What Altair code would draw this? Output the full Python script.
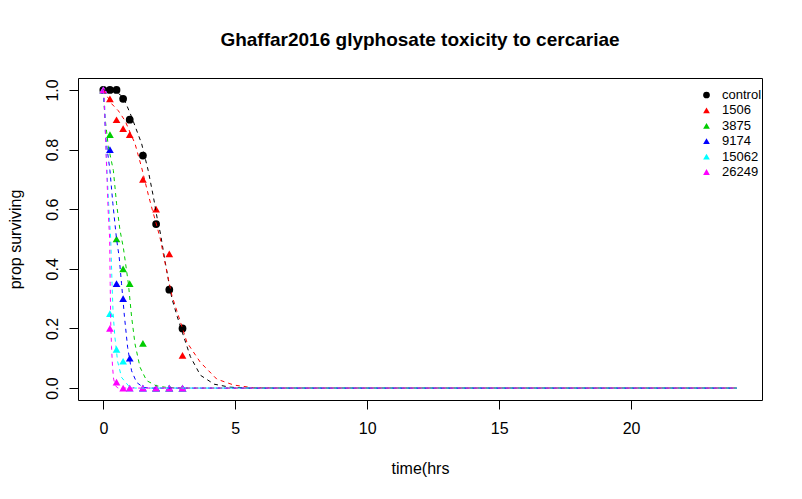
import altair as alt
import pandas as pd

# ---------------- data ----------------
series = ["control", "1506", "3875", "9174", "15062", "26249"]
colors = ["#000000", "#FF0000", "#00CD00", "#0000FF", "#00FFFF", "#FF00FF"]
shapes = ["circle", "triangle-up", "triangle-up", "triangle-up", "triangle-up", "triangle-up"]

point_times = [0, 0.25, 0.5, 0.75, 1.0, 1.5, 2.0, 2.5, 3.0]
surv_control = [1.0, 1.0, 1.0, 0.97, 0.90, 0.78, 0.55, 0.33, 0.20]
surv_1506 = [1.0, 0.97, 0.90, 0.87, 0.85, 0.70, 0.60, 0.45, 0.11]
surv_3875 = [1.0, 0.85, 0.50, 0.40, 0.35, 0.15, 0.0, 0.0, 0.0]
surv_9174 = [1.0, 0.80, 0.35, 0.30, 0.10, 0.0, 0.0, 0.0, 0.0]
surv_15062 = [1.0, 0.25, 0.13, 0.09, 0.0, 0.0, 0.0, 0.0, 0.0]
surv_26249 = [1.0, 0.20, 0.02, 0.0, 0.0, 0.0, 0.0, 0.0, 0.0]

# fitted curves
fit_t_control = [0, 0.5, 0.76, 1.07, 1.45, 1.7, 1.9, 2.04, 2.16, 2.35, 2.48, 2.6, 2.8, 3.0, 3.3, 3.68, 4.2, 4.8, 5.5, 24]
fit_s_control = [1.0, 0.993, 0.975, 0.91, 0.82, 0.73, 0.64, 0.57, 0.52, 0.42, 0.355, 0.30, 0.24, 0.185, 0.105, 0.043, 0.013, 0.003, 0.0, 0.0]
fit_t_1506 = [0, 0.32, 0.57, 0.82, 1.2, 1.45, 1.7, 1.85, 2.04, 2.16, 2.35, 2.48, 2.6, 2.8, 3.0, 3.17, 3.68, 4.3, 4.95, 5.6, 6.7, 24]
fit_s_1506 = [1.0, 0.953, 0.93, 0.897, 0.82, 0.74, 0.65, 0.60, 0.54, 0.50, 0.415, 0.36, 0.31, 0.255, 0.20, 0.153, 0.086, 0.03, 0.01, 0.002, 0.0, 0.0]
fit_t_3875 = [0, 0.06, 0.19, 0.38, 0.5, 0.63, 0.76, 0.95, 1.07, 1.2, 1.39, 1.64, 2.0, 2.4, 3.0, 24]
fit_s_3875 = [1.0, 0.91, 0.81, 0.73, 0.62, 0.53, 0.47, 0.35, 0.24, 0.148, 0.07, 0.025, 0.008, 0.002, 0.0, 0.0]
fit_t_9174 = [0, 0.04, 0.09, 0.25, 0.36, 0.5, 0.6, 0.69, 0.8, 0.92, 1.07, 1.26, 1.52, 1.8, 24]
fit_s_9174 = [1.0, 0.94, 0.84, 0.73, 0.62, 0.50, 0.44, 0.35, 0.24, 0.137, 0.058, 0.019, 0.002, 0.0, 0.0]
fit_t_15062 = [0, 0.05, 0.1, 0.2, 0.28, 0.33, 0.37, 0.44, 0.54, 0.69, 0.95, 1.2, 24]
fit_s_15062 = [1.0, 0.95, 0.80, 0.62, 0.50, 0.35, 0.25, 0.17, 0.09, 0.036, 0.008, 0.0, 0.0]
fit_t_26249 = [0, 0.04, 0.1, 0.18, 0.24, 0.26, 0.28, 0.31, 0.35, 0.39, 0.46, 0.55, 24]
fit_s_26249 = [1.0, 0.96, 0.80, 0.60, 0.50, 0.35, 0.22, 0.14, 0.07, 0.03, 0.008, 0.0, 0.0]

# ---------------- tables ----------------
surv_lists = [surv_control, surv_1506, surv_3875, surv_9174, surv_15062, surv_26249]
fit_t_lists = [fit_t_control, fit_t_1506, fit_t_3875, fit_t_9174, fit_t_15062, fit_t_26249]
fit_s_lists = [fit_s_control, fit_s_1506, fit_s_3875, fit_s_9174, fit_s_15062, fit_s_26249]

pts_rows = []
for i, name in enumerate(series):
    for t, s in zip(point_times, surv_lists[i]):
        pts_rows.append({"series": name, "time": t, "surv": s, "k": i})
pts = pd.DataFrame(pts_rows)

FONT = "Liberation Sans"

x_scale = alt.Scale(domain=[-0.96, 24.96], nice=False, zero=False)
y_scale = alt.Scale(domain=[-0.04, 1.04], nice=False, zero=False)

x_enc = alt.X(
    "time:Q",
    scale=x_scale,
    axis=alt.Axis(
        values=[0, 5, 10, 15, 20], format="d", title="time(hrs",
        tickSize=9, labelPadding=11,
        titleX=342, titleY=68, titleBaseline="middle", titleAlign="center",
    ),
)
y_enc = alt.Y(
    "surv:Q",
    scale=y_scale,
    axis=alt.Axis(
        values=[0, 0.2, 0.4, 0.6, 0.8, 1.0], format=".1f", title="prop surviving",
        tickSize=9, labelAngle=270, labelAlign="center", labelBaseline="alphabetic",
        labelPadding=12,
        titleX=-63, titleY=161, titleAngle=270, titleBaseline="middle", titleAlign="center",
    ),
)

legend = alt.Legend(
    title=None, orient="none", legendX=622, legendY=10.5, padding=0,
    symbolSize=45, labelFontSize=13, labelFont=FONT, labelFontWeight="normal",
    labelColor="black", labelOffset=9, rowPadding=1.4, symbolStrokeWidth=0,
)

points = alt.Chart(pts).mark_point(filled=True, opacity=1, size=60).encode(
    x=x_enc,
    y=y_enc,
    color=alt.Color("series:N", scale=alt.Scale(domain=series, range=colors), legend=legend),
    shape=alt.Shape("series:N", scale=alt.Scale(domain=series, range=shapes), legend=legend),
    order=alt.Order("k:Q"),
)

layers = [points]
for i, name in enumerate(series):
    df = pd.DataFrame({"time": fit_t_lists[i], "surv": fit_s_lists[i]})
    layers.append(
        alt.Chart(df).mark_line(strokeDash=[4, 4], strokeWidth=1, color=colors[i]).encode(
            x=alt.X("time:Q", scale=x_scale),
            y=alt.Y("surv:Q", scale=y_scale),
        )
    )

chart = (
    alt.layer(*layers)
    .properties(
        width=684, height=322,
        autosize=alt.AutoSizeParams(type="none"),
        padding={"left": 70, "top": 70, "right": 20, "bottom": 80},
        title=alt.Title(
            "Ghaffar2016 glyphosate toxicity to cercariae",
            font=FONT, fontSize=19, fontWeight="bold", color="black",
            anchor="middle", offset=28,
        ),
        background="white",
    )
    .configure_view(stroke="black", strokeWidth=1)
    .configure_axis(
        grid=False, domain=False, tickColor="black", tickWidth=1,
        labelFont=FONT, labelFontSize=16, labelColor="black",
        titleFont=FONT, titleFontSize=16, titleFontWeight="normal", titleColor="black",
    )
)

chart.save("out.html", embed_options={"renderer": "svg", "actions": False})
